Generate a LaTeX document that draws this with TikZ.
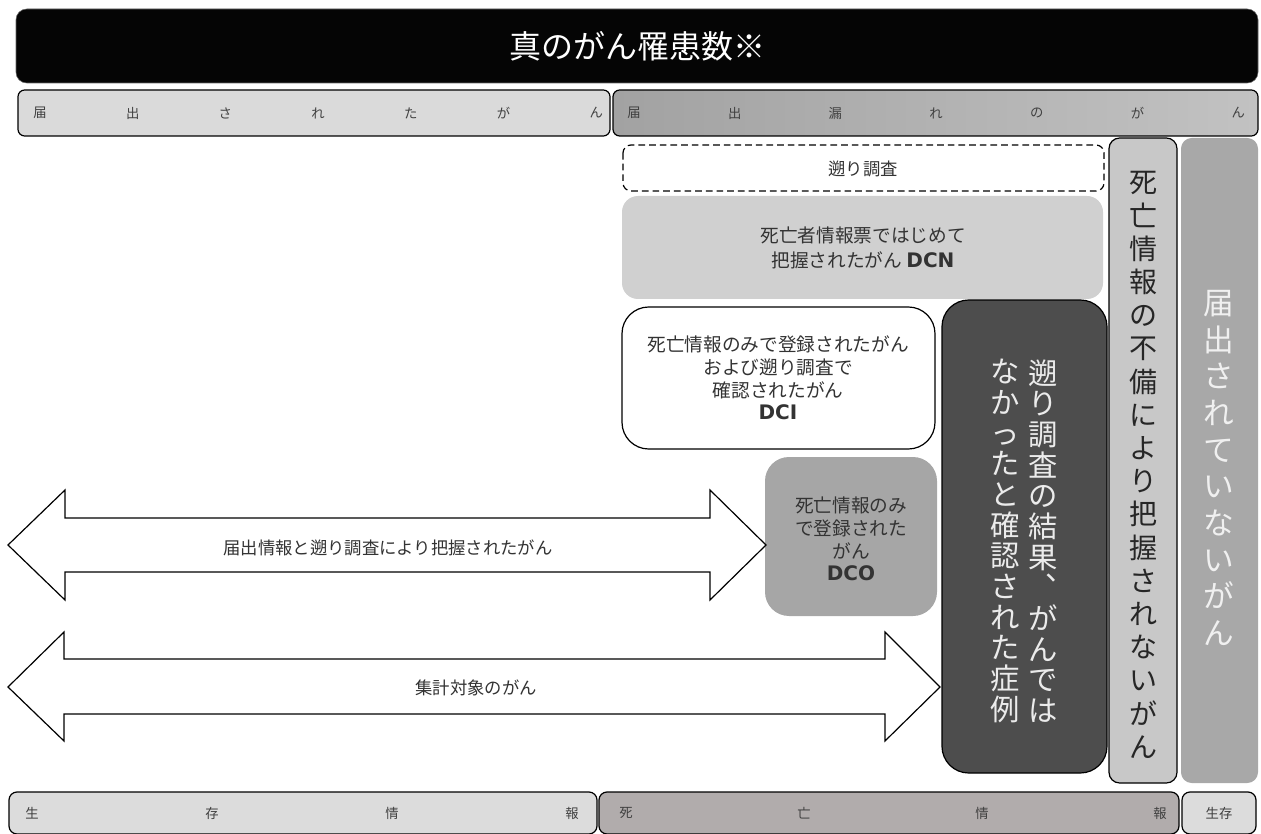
\documentclass[tikz,border=0pt]{standalone}
\usepackage{fontspec}
\setmainfont{Noto Sans CJK JP}
\newfontfamily\vfont{DejaVu Sans}
\definecolor{rowlight}{HTML}{DADADA}
\definecolor{rowdarkL}{HTML}{A2A2A2}
\definecolor{rowdarkR}{HTML}{C2C2C2}
\definecolor{dcngray}{HTML}{D0D0D0}
\definecolor{dcogray}{HTML}{A6A6A6}
\definecolor{darkbox}{HTML}{4D4D4D}
\definecolor{fubigray}{HTML}{C8C8C8}
\definecolor{notrep}{HTML}{A8A8A8}
\definecolor{livegray}{HTML}{DCDCDC}
\definecolor{deadgray}{HTML}{B1ACAC}
\makeatletter
% stack characters for vertical (tategaki) text
\newcommand{\tate}[1]{\vbox{\@tfor\tate@c:=#1\do{\hbox to 1em{\hss\tate@c\hss}}}}
% vertical comma: moved to the top right of its cell
\newcommand{\tten}{\raisebox{0.62em}[0.8em][0pt]{\hspace{0.58em}\makebox[0pt][l]{、}}\hspace{0.42em}}
\makeatother
\begin{document}
\begin{tikzpicture}[x=0.75pt,y=0.75pt,yscale=-1,xscale=1,
  rowtxt/.style={text=black!75,font=\fontsize{10}{12}\selectfont,inner sep=0pt},
  boxtxt/.style={align=center,text=black!80,font=\fontsize{14}{17}\selectfont,inner sep=0pt},
  arrowshape/.style={draw=black,line width=0.9pt,fill=white,line join=miter},
  tatetxt/.style={inner sep=0pt}]
\useasboundingbox (0,0) rectangle (1261,834);

%Shape: Rounded Rect (title bar)
\draw [draw=black!60,fill=black!98,rounded corners=8pt] (16,9) rectangle (1258,83) ;
\node [text=white,font=\fontsize{24}{28}\selectfont,inner sep=0pt] (title) at (637,46) {真のがん罹患数※};

%Shape: Rounded Rect (row 2)
\draw [draw=black,line width=0.9pt,fill=rowlight,rounded corners=5pt] (18,90) rectangle (610,136) ;
\draw [draw=black,line width=0.9pt,left color=rowdarkL,right color=rowdarkR,rounded corners=5pt] (613,90) rectangle (1258,136) ;
\foreach \c [count=\i from 0] in {届,出,さ,れ,た,が,ん}
  \node [rowtxt] (lrow\i) at (40+\i*92.7,113) {\c};
\foreach \c [count=\i from 0] in {届,出,漏,れ,の,が,ん}
  \node [rowtxt] (rrow\i) at (634+\i*100.7,113) {\c};

%Shape: Rounded Rect (survey, dashed)
\draw [draw=black,line width=0.9pt,dash pattern={on 5pt off 3pt},fill=white,rounded corners=6pt] (623,145) rectangle (1104,191) ;
\node [boxtxt,font=\fontsize{13}{16}\selectfont] (survey) at (863,169) {遡り調査};

%Shape: Rounded Rect (DCN)
\draw [draw=none,fill=dcngray,rounded corners=12pt] (622,196) rectangle (1103,299) ;
\node [boxtxt,font=\fontsize{14}{19}\selectfont] (dcn) at (863,248) {死亡者情報票ではじめて\\把握されたがん {\vfont\bfseries\fontsize{15}{19}\selectfont DCN}};

%Shape: Rounded Rect (DCI)
\draw [draw=black,line width=0.9pt,fill=white,rounded corners=20pt] (622,307) rectangle (935,449) ;
\node [boxtxt] (dci) at (778,378) {死亡情報のみで登録されたがん\\および遡り調査で\\確認されたがん\\{\vfont\bfseries\fontsize{15}{17}\selectfont DCI}};

%Shape: Rounded Rect (DCO)
\draw [draw=none,fill=dcogray,rounded corners=18pt] (765,457) rectangle (937,616) ;
\node [boxtxt] (dco) at (851,539) {死亡情報のみ\\で登録された\\がん\\{\vfont\bfseries\fontsize{15}{17}\selectfont DCO}};

%Shape: Rounded Rect (not cancer after survey)
\draw [draw=black,line width=0.9pt,fill=darkbox,rounded corners=20pt] (942,300) rectangle (1107,773) ;
\node [tatetxt,text=black!8,font=\fontsize{22}{23}\selectfont] (notca) at (1043,541) {\tate{遡り調査の結果\tten がんでは}};
\node [tatetxt,text=black!8,font=\fontsize{22}{23}\selectfont] (notcb) at (1005,541) {\tate{なかったと確認された症例}};

%Shape: Rounded Rect (incomplete death info)
\draw [draw=black,line width=0.9pt,fill=fubigray,rounded corners=8pt] (1109,138) rectangle (1177,783) ;
\node [tatetxt,text=black!85,font=\fontsize{21}{24.9}\selectfont] (fubi) at (1143,465) {\tate{死亡情報の不備により把握されないがん}};

%Shape: Rounded Rect (not reported)
\draw [draw=none,fill=notrep,rounded corners=8pt] (1181,138) rectangle (1258,783) ;
\node [tatetxt,text=white!94!black,font=\fontsize{23}{27.5}\selectfont] (notrep) at (1219,468) {\tate{届出されていないがん}};

%Double Arrow (reported + survey)
\draw [arrowshape] (8,545) -- (65,490) -- (65,518) -- (710,518) -- (710,490) -- (766,545)
  -- (710,600) -- (710,572) -- (65,572) -- (65,600) -- cycle ;
\node [boxtxt,font=\fontsize{13}{16}\selectfont] (grasped) at (388,548) {届出情報と遡り調査により把握されたがん};

%Double Arrow (counted)
\draw [arrowshape] (8,687) -- (64,632) -- (64,659) -- (885,659) -- (885,632) -- (940,687)
  -- (885,741) -- (885,714) -- (64,714) -- (64,741) -- cycle ;
\node [boxtxt,font=\fontsize{13}{16}\selectfont] (counted) at (476,688) {集計対象のがん};

%Shape: Rounded Rect (bottom row)
\draw [draw=black,line width=0.9pt,fill=livegray,rounded corners=6pt] (9,792) rectangle (597,834) ;
\draw [draw=black,line width=0.9pt,fill=deadgray,rounded corners=6pt] (599,792) rectangle (1179,834) ;
\draw [draw=black,line width=0.9pt,fill=livegray,rounded corners=6pt] (1182,792) rectangle (1256,834) ;
\foreach \c [count=\i from 0] in {生,存,情,報}
  \node [rowtxt] (live\i) at (32+\i*180,813) {\c};
\foreach \c [count=\i from 0] in {死,亡,情,報}
  \node [rowtxt] (dead\i) at (626+\i*178,813) {\c};
\node [rowtxt] (alive) at (1219,813) {生存};

\end{tikzpicture}
\end{document}
